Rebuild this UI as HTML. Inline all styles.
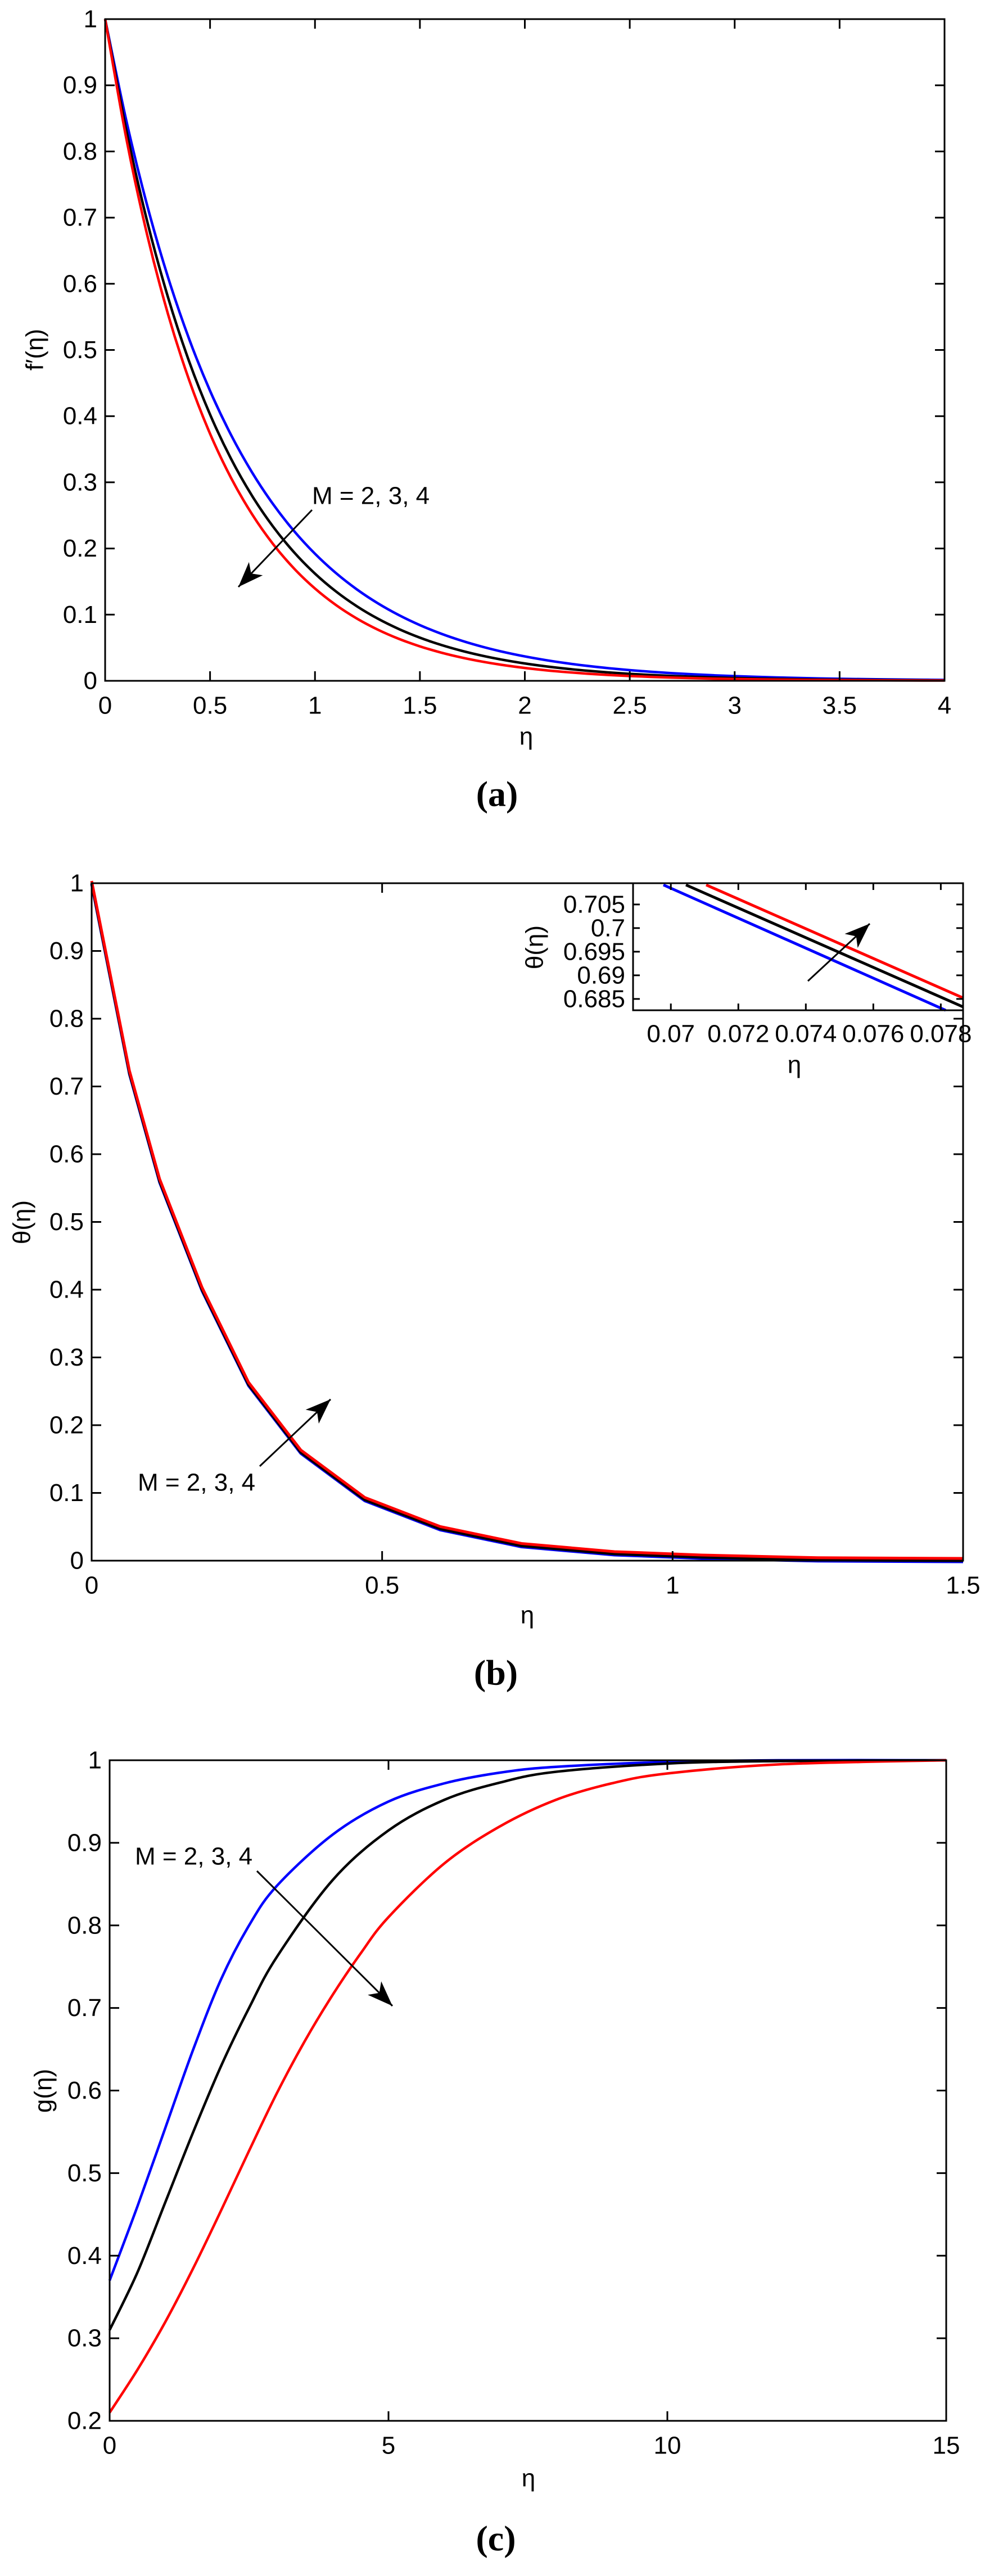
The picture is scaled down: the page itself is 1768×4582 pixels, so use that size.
<!DOCTYPE html>
<html><head><meta charset="utf-8">
<style>
html,body{margin:0;padding:0;background:#fff;}
svg{display:block;}
text{font-family:"Liberation Sans",sans-serif;fill:#000;}
.cap{font-family:"Liberation Serif",serif;}
</style></head>
<body>
<svg id="s" width="1768" height="4582" xmlns="http://www.w3.org/2000/svg">
</svg>
<script>
var S=document.getElementById('s');var NS='http://www.w3.org/2000/svg';
function el(t,a,txt){var e=document.createElementNS(NS,t);for(var k in a)e.setAttribute(k,a[k]);if(txt!==undefined)e.textContent=txt;S.appendChild(e);return e;}
function line(x1,y1,x2,y2,w,c){el('line',{x1:x1,y1:y1,x2:x2,y2:y2,stroke:c||'#000','stroke-width':w||3});}
function text(x,y,s,o){o=o||{};var a={x:x,y:y,'font-size':o.fs||44,'text-anchor':o.anchor||'middle','dominant-baseline':'central'};if(o.rot)a.transform='rotate(-90 '+x+' '+y+')';if(o.cls)a['class']=o.cls;if(o.fw)a['font-weight']=o.fw;el('text',a,s);}
function arrow(x1,y1,x2,y2){line(x1,y1,x2,y2,3);var dx=x2-x1,dy=y2-y1,L=Math.hypot(dx,dy),ux=dx/L,uy=dy/L,px=-uy,py=ux;var h=45,w=17,b=12;
var p=[[x2,y2],[x2-h*ux+w*px,y2-h*uy+w*py],[x2-(h-b)*ux,y2-(h-b)*uy],[x2-h*ux-w*px,y2-h*uy-w*py]];
el('polygon',{points:p.map(function(q){return q.join(',')}).join(' '),fill:'#000'});}
function axes(ax){var L=ax.L,R=ax.R,T=ax.T,B=ax.B;
 var X=function(v){return L+(v-ax.x0)/(ax.x1-ax.x0)*(R-L)};var Y=function(v){return B-(v-ax.y0)/(ax.y1-ax.y0)*(B-T)};
 ax.X=X;ax.Y=Y;return ax;}
function frame(ax,tl,fs){var L=ax.L,R=ax.R,T=ax.T,B=ax.B;
 el('rect',{x:L,y:T,width:R-L,height:B-T,fill:'none',stroke:'#000','stroke-width':3});
 ax.xt.forEach(function(v){var x=ax.X(v[0]);line(x,B,x,B-tl,3);line(x,T,x,T+tl,3);text(x,B+ax.xlo,v[1],{fs:fs});});
 ax.yt.forEach(function(v){var y=ax.Y(v[0]);line(L,y,L+tl,y,3);line(R,y,R-tl,y,3);text(L-ax.ylo,y,v[1],{fs:fs,anchor:'end'});});}
function curve(ax,pts,c,w){var P=pts.map(function(p){return [ax.X(p[0]),ax.Y(p[1])]});
 var d='M'+P[0][0]+','+P[0][1];
 for(var i=0;i<P.length-1;i++){var p0=P[i-1]||P[i],p1=P[i],p2=P[i+1],p3=P[i+2]||P[i+1];
  d+=' C'+(p1[0]+(p2[0]-p0[0])/6)+','+(p1[1]+(p2[1]-p0[1])/6)+' '+(p2[0]-(p3[0]-p1[0])/6)+','+(p2[1]-(p3[1]-p1[1])/6)+' '+p2[0]+','+p2[1];}
 el('path',{d:d,fill:'none',stroke:c,'stroke-width':w||4.5,'stroke-linejoin':'round'});}
function fun(f,x0,x1,n){var a=[];for(var i=0;i<=n;i++){var x=x0+(x1-x0)*i/n;a.push([x,f(x)]);}return a;}

// ---- (a)
var A=axes({L:187,R:1680,T:34,B:1211,x0:0,x1:4,y0:0,y1:1,xlo:44,ylo:14});
A.xt=[[0,'0'],[0.5,'0.5'],[1,'1'],[1.5,'1.5'],[2,'2'],[2.5,'2.5'],[3,'3'],[3.5,'3.5'],[4,'4']];
A.yt=[];for(var i=0;i<=10;i++)A.yt.push([i/10,i==0?'0':i==10?'1':(i/10).toFixed(1)]);
curve(A,fun(function(x){return Math.exp(-1.65*x)},0,4,40),'#0000ff');
curve(A,fun(function(x){return Math.exp(-1.82*x)},0,4,40),'#000');
curve(A,fun(function(x){return Math.exp(-1.97*x)},0,4,40),'#ff0000');
frame(A,17,44);
text(936,1310,'η');text(62,622,'f′(η)',{rot:1});
text(555,882,'M = 2, 3, 4',{anchor:'start'});
arrow(555,907,424,1044);
text(884,1412,'(a)',{cls:'cap',fs:64,fw:'bold'});

// ---- (b)
var Bx=axes({L:163,R:1713,T:1571,B:2776,x0:0,x1:1.5,y0:0,y1:1,xlo:44,ylo:14});
Bx.xt=[[0,'0'],[0.5,'0.5'],[1,'1'],[1.5,'1.5']];
Bx.yt=[];for(var i=0;i<=10;i++)Bx.yt.push([i/10,i==0?'0':i==10?'1':(i/10).toFixed(1)]);
var th=[[0,1],[0.065,0.72],[0.117,0.56],[0.19,0.40],[0.27,0.26],[0.36,0.16],[0.47,0.09],[0.6,0.047],[0.74,0.022],[0.9,0.01],[1.05,0.005],[1.25,0.001],[1.5,0]];
function lin(ax,pts,c,w,dy){var s=pts.map(function(p){return ax.X(p[0])+','+(ax.Y(p[1])-(dy||0))}).join(' ');el('polyline',{points:s,fill:'none',stroke:c,'stroke-width':w,'stroke-linejoin':'round'});}
lin(Bx,th,'#0000ff',5,-2);lin(Bx,th,'#000',5,0);lin(Bx,th,'#ff0000',5,4);
frame(Bx,17,44);
text(938,2873,'η');text(39,2174,'θ(η)',{rot:1});
text(245,2637,'M = 2, 3, 4',{anchor:'start'});
arrow(462,2608,588,2489);
text(882,2975,'(b)',{cls:'cap',fs:64,fw:'bold'});
// inset
el('rect',{x:1126,y:1571,width:587,height:226,fill:'#fff',stroke:'none'});
var I=axes({L:1126,R:1713,T:1571,B:1797,x0:0.06888,x1:0.07866,y0:0.6826,y1:0.7095,xlo:42,ylo:14});
I.xt=[[0.070,'0.07'],[0.072,'0.072'],[0.074,'0.074'],[0.076,'0.076'],[0.078,'0.078']];
I.yt=[[0.705,'0.705'],[0.700,'0.7'],[0.695,'0.695'],[0.690,'0.69'],[0.685,'0.685']];
line(1180,1574,1682,1797,5,'#0000ff');
line(1220,1574,1713,1791,5,'#000');
line(1256,1574,1713,1775,5,'#ff0000');
frame(I,12,44);
text(1413,1894,'η');text(951,1685,'θ(η)',{rot:1});
arrow(1437,1745,1547,1643);

// ---- (c)
var C=axes({L:195,R:1683,T:3131,B:4306,x0:0,x1:15,y0:0.2,y1:1,xlo:44,ylo:14});
C.xt=[[0,'0'],[5,'5'],[10,'10'],[15,'15']];
C.yt=[];for(var i=2;i<=10;i++)C.yt.push([i/10,i==10?'1':(i/10).toFixed(1)]);
curve(C,[[0,.37],[.5,.46],[1,.555],[1.5,.65],[2,.735],[2.5,.80],[3,.848],[4,.91],[5,.95],[6,.972],[7,.985],[8,.992],[10,.998],[12,1],[15,1]],'#0000ff');
curve(C,[[0,.31],[.5,.38],[1,.465],[1.5,.55],[2,.63],[2.5,.70],[3,.762],[4,.855],[5,.915],[6,.952],[7,.973],[8,.986],[10,.996],[12,.999],[15,1]],'#000');
curve(C,[[0,.21],[.5,.262],[1,.32],[1.5,.385],[2,.455],[2.5,.527],[3,.597],[3.5,.66],[4,.716],[4.5,.766],[5,.81],[6,.875],[7,.92],[8,.952],[9,.972],[10,.984],[12,.995],[15,1]],'#ff0000');
frame(C,17,44);
text(940,4408,'η');text(77,3719,'g(η)',{rot:1});
text(240,3302,'M = 2, 3, 4',{anchor:'start'});
arrow(457,3328,698,3568);
text(882,4515,'(c)',{cls:'cap',fs:64,fw:'bold'});
</script>
</body></html>
